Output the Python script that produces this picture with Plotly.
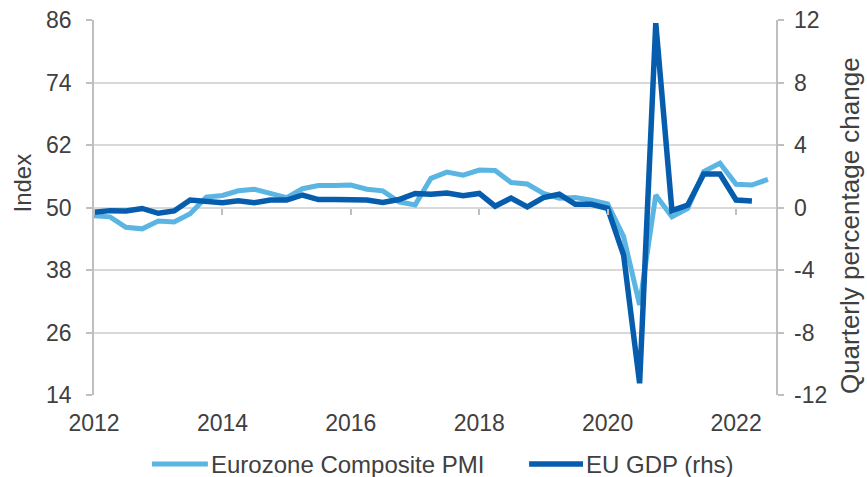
import plotly.graph_objects as go

# Quarterly dates (points plotted at quarter positions)
dates = [
    "2012-01-01", "2012-04-01", "2012-07-01", "2012-10-01",
    "2013-01-01", "2013-04-01", "2013-07-01", "2013-10-01",
    "2014-01-01", "2014-04-01", "2014-07-01", "2014-10-01",
    "2015-01-01", "2015-04-01", "2015-07-01", "2015-10-01",
    "2016-01-01", "2016-04-01", "2016-07-01", "2016-10-01",
    "2017-01-01", "2017-04-01", "2017-07-01", "2017-10-01",
    "2018-01-01", "2018-04-01", "2018-07-01", "2018-10-01",
    "2019-01-01", "2019-04-01", "2019-07-01", "2019-10-01",
    "2020-01-01", "2020-04-01", "2020-07-01", "2020-10-01",
    "2021-01-01", "2021-04-01", "2021-07-01", "2021-10-01",
    "2022-01-01", "2022-04-01", "2022-07-01",
]

pmi = [48.4, 48.2, 46.2, 45.9, 47.4, 47.2, 48.8, 52.0,
       52.3, 53.2, 53.5, 52.8, 51.9, 53.6, 54.2, 54.2,
       54.3, 53.5, 53.2, 51.1, 50.5, 55.6, 56.8, 56.2,
       57.2, 57.1, 54.8, 54.5, 52.7, 51.8, 51.9, 51.4,
       50.7, 44.4, 31.3, 52.4, 48.2, 49.8, 56.9, 58.5,
       54.45, 54.3, 55.4]

gdp = [-0.31, -0.20, -0.22, -0.06, -0.37, -0.22, 0.48, 0.37,
       0.30, 0.43, 0.30, 0.48, 0.48, 0.80, 0.51, 0.51,
       0.51, 0.48, 0.32, 0.51, 0.90, 0.85, 0.93, 0.75,
       0.90, 0.08, 0.60, 0.04, 0.64, 0.85, 0.21, 0.21,
       -0.05, -3.04, -11.25, 11.80, -0.20, 0.16, 2.14, 2.14,
       0.48, 0.42]

series_names = ["Eurozone Composite PMI", "EU GDP (rhs)"]
year_ticks = ["2012-01-01", "2014-01-01", "2016-01-01", "2018-01-01", "2020-01-01", "2022-01-01"]
year_labels = ["2012", "2014", "2016", "2018", "2020", "2022"]
left_ticks = [14, 26, 38, 50, 62, 74, 86]
right_ticks = [-12, -8, -4, 0, 4, 8, 12]
right_labels = ["-12", "-8", "-4", "0", "4", "8", "12"]

LIGHT = "#5AB5E2"
DARK = "#065DAD"
GRID = "#D9D9D9"
AXIS = "#BFBFBF"
TXT = "#404040"
FONT = "Liberation Sans, Arial, sans-serif"
x_range = ["2012-01-01", "2022-08-16"]

fig = go.Figure()
fig.add_trace(go.Scatter(x=dates, y=pmi, mode="lines", name=series_names[0],
                         line=dict(color=LIGHT, width=5), xaxis="x", yaxis="y", showlegend=False))
fig.add_trace(go.Scatter(x=dates[:len(gdp)], y=gdp, mode="lines", name=series_names[1],
                         line=dict(color=DARK, width=5.5), xaxis="x2", yaxis="y2", showlegend=False))

# manual legend (paper coords relative to plot area)
leg_y = -0.184
shapes = [
    dict(type="line", xref="paper", yref="paper", x0=0.085, x1=0.167, y0=leg_y, y1=leg_y,
         line=dict(color=LIGHT, width=5)),
    dict(type="line", xref="paper", yref="paper", x0=0.638, x1=0.717, y0=leg_y, y1=leg_y,
         line=dict(color=DARK, width=5.5)),
]
annotations = [
    dict(text=series_names[0], xref="paper", yref="paper", x=0.168, y=leg_y,
         xanchor="left", yanchor="middle", showarrow=False, font=dict(size=24, color=TXT)),
    dict(text=series_names[1], xref="paper", yref="paper", x=0.718, y=leg_y,
         xanchor="left", yanchor="middle", showarrow=False, font=dict(size=24, color=TXT)),
    dict(text="Index", xref="paper", yref="paper", x=-0.105, y=0.565,
         xanchor="center", yanchor="middle", textangle=-90, showarrow=False,
         font=dict(size=24, color=TXT)),
    dict(text="Quarterly percentage change", xref="paper", yref="paper", x=1.1085, y=0.453,
         xanchor="center", yanchor="middle", textangle=-90, showarrow=False,
         font=dict(size=26, color=TXT)),
]
# right-axis tick labels, left aligned next to the axis (placed on the y2 scale)
for v, lab in zip(right_ticks, right_labels):
    annotations.append(dict(text=lab, xref="paper", yref="y2", x=1.0235, y=v,
                            xanchor="left", yanchor="middle", showarrow=False,
                            font=dict(size=23, color=TXT)))

fig.update_layout(
    width=867, height=477,
    margin=dict(l=94, r=91, t=20, b=82, autoexpand=False),
    paper_bgcolor="white", plot_bgcolor="white",
    font=dict(family=FONT, size=23, color=TXT),
    showlegend=False,
    shapes=shapes,
    annotations=annotations,
    xaxis=dict(type="date", range=x_range, tickvals=year_ticks, ticktext=year_labels,
               showgrid=False, zeroline=False, showline=False, ticks="",
               ticklabelstandoff=12, tickfont=dict(size=23, color=TXT)),
    xaxis2=dict(type="date", range=x_range, overlaying="x", anchor="free", position=0.5,
                tickvals=year_ticks, showticklabels=False, showgrid=False, zeroline=False,
                showline=False, ticks="outside", ticklen=6, tickcolor=AXIS, tickwidth=1.5),
    yaxis=dict(range=[14, 86], tickvals=left_ticks, showgrid=True, gridcolor=GRID, gridwidth=1.5,
               zeroline=False, showline=True, linecolor=AXIS, linewidth=1.5,
               ticks="outside", ticklen=6, tickcolor=AXIS, tickwidth=1.5,
               ticklabelstandoff=10, tickfont=dict(size=23, color=TXT)),
    yaxis2=dict(range=[-12, 12], tickvals=right_ticks, showticklabels=False,
                overlaying="y", side="right", anchor="x",
                showgrid=False, zeroline=False, showline=True, linecolor=AXIS, linewidth=1.5,
                ticks="outside", ticklen=6, tickcolor=AXIS, tickwidth=1.5),
)

fig.write_html("out.html", config={"displayModeBar": False})

# remove default page margin so the figure sits at the window's top-left corner
with open("out.html", "r", encoding="utf-8") as f:
    html = f.read()
html = html.replace("<head>", "<head><style>html,body{margin:0;padding:0;overflow:hidden;}</style>", 1)
with open("out.html", "w", encoding="utf-8") as f:
    f.write(html)
